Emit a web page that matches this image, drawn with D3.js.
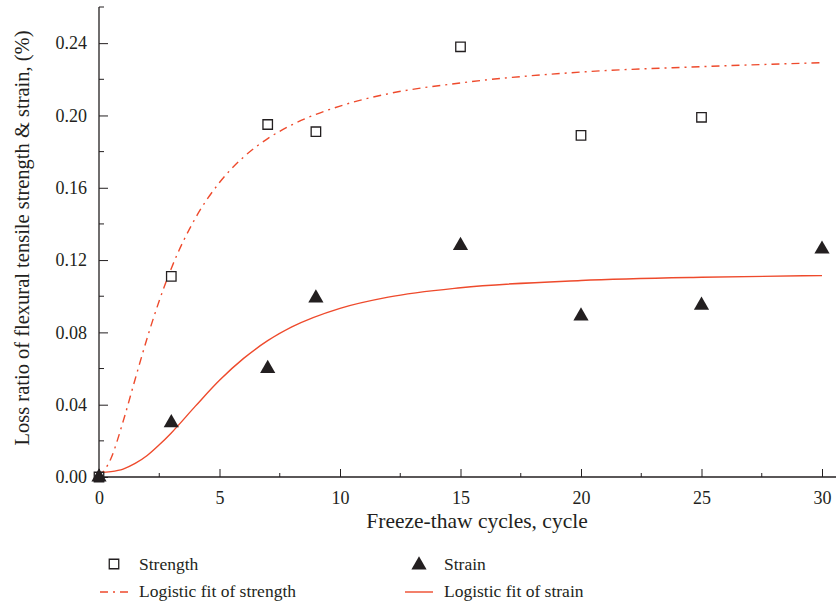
<!DOCTYPE html>
<html>
<head>
<meta charset="utf-8">
<script src="https://cdn.jsdelivr.net/npm/d3@7"></script>
<style>
  body { margin: 0; background: #fff; }
  text { font-family: "Liberation Serif", "DejaVu Serif", serif; fill: #231f20; }
</style>
</head>
<body>
<div id="chart"></div>
<script>
let width = 836;
let height = 604;
let margin = ({top: 7, right: 14, bottom: 127, left: 99});

// measured points
let cycles = [0, 3, 7, 9, 15, 20, 25];
let strength = [0, 0.111, 0.195, 0.191, 0.238, 0.189, 0.199];
let strainCycles = [0, 3, 7, 9, 15, 20, 25, 30];
let strain = [0, 0.030, 0.060, 0.099, 0.128, 0.089, 0.095, 0.126];

// fitted curves
let fitX = [0, 0.5, 1, 1.5, 2, 2.5, 3, 4, 5, 6, 7, 8, 10, 12, 15, 20, 25, 30];
let strengthFit = [0, 0.0104, 0.0307, 0.0541, 0.0769, 0.0975, 0.1154, 0.1432, 0.1629, 0.177, 0.1872, 0.1948, 0.2052, 0.2120, 0.2180, 0.2240, 0.2270, 0.2292];
let strainFit = [0.0025, 0.0030, 0.0044, 0.0075, 0.0119, 0.0178, 0.0244, 0.0392, 0.0535, 0.0656, 0.0754, 0.0830, 0.0933, 0.0995, 0.1047, 0.1087, 0.1105, 0.1114];

let yTicks = [0.00, 0.04, 0.08, 0.12, 0.16, 0.20, 0.24];
let xTicks = [0, 5, 10, 15, 20, 25, 30];

let red = "#ee4a2c";

let svg = d3.select("#chart")
    .append("svg")
    .attr("width", width)
    .attr("height", height);

let xScale = d3.scaleLinear()
    .domain([0, 30])
    .range([margin.left, 822]);

let yScale = d3.scaleLinear()
    .domain([0, 0.26])
    .range([height - margin.bottom, margin.top]);

let x0 = xScale(0), y0 = yScale(0);

// x axis (ticks pointing inwards)
let xAxis = d3.axisBottom(xScale)
    .tickValues(xTicks)
    .tickSize(-8)
    .tickPadding(14)
    .tickFormat(d3.format("d"));

let gx = svg.append("g")
    .attr("transform", "translate(0," + y0 + ")")
    .call(xAxis);
gx.select(".domain").remove();
gx.append("line")
    .attr("x1", x0).attr("x2", width)
    .attr("stroke", "#231f20").attr("stroke-width", 1.3);
gx.selectAll(".minor")
    .data(d3.range(2.5, 30, 5))
    .enter().append("line")
    .attr("x1", d => xScale(d)).attr("x2", d => xScale(d))
    .attr("y1", 0).attr("y2", -4)
    .attr("stroke", "#231f20");

// y axis
let yAxis = d3.axisLeft(yScale)
    .tickValues(yTicks)
    .tickSize(-9)
    .tickPadding(12)
    .tickFormat(d3.format(".2f"));

let gy = svg.append("g")
    .attr("transform", "translate(" + x0 + ",0)")
    .call(yAxis);
gy.select(".domain").remove();
gy.append("line")
    .attr("y1", margin.top).attr("y2", y0)
    .attr("stroke", "#231f20").attr("stroke-width", 1.3);
gy.selectAll(".minor")
    .data([0.02, 0.06, 0.10, 0.14, 0.18, 0.22, 0.26])
    .enter().append("line")
    .attr("y1", d => yScale(d)).attr("y2", d => yScale(d))
    .attr("x1", 0).attr("x2", 5)
    .attr("stroke", "#231f20");

svg.selectAll(".tick line").attr("stroke", "#231f20");
svg.selectAll(".tick text")
    .style("font-family", "Liberation Serif, serif")
    .style("font-size", "18px")
    .attr("fill", "#231f20");

// axis titles
svg.append("text")
    .attr("x", 477)
    .attr("y", 528)
    .attr("text-anchor", "middle")
    .style("font-size", "21.5px")
    .text("Freeze-thaw cycles, cycle");

svg.append("text")
    .attr("transform", "translate(29," + 238 + ") rotate(-90)")
    .attr("text-anchor", "middle")
    .style("font-size", "20.5px")
    .text("Loss ratio of flexural tensile strength & strain, (%)");

// fit lines
let line = d3.line()
    .x(d => xScale(d[0]))
    .y(d => yScale(d[1]))
    .curve(d3.curveMonotoneX);

svg.append("path")
    .datum(fitX.map((x, i) => [x, strengthFit[i]]))
    .attr("d", line)
    .attr("fill", "none")
    .attr("stroke", red)
    .attr("stroke-width", 1.4)
    .attr("stroke-dasharray", "8,5,2,5");

svg.append("path")
    .datum(fitX.map((x, i) => [x, strainFit[i]]))
    .attr("d", line)
    .attr("fill", "none")
    .attr("stroke", red)
    .attr("stroke-width", 1.4);

// markers
let square = d3.symbol().type(d3.symbolSquare).size(90);
let triangle = d3.symbol().type(d3.symbolTriangle).size(100);

svg.selectAll(".strength")
    .data(cycles.map((c, i) => [c, strength[i]]))
    .enter().append("path")
    .attr("class", "strength")
    .attr("d", square)
    .attr("transform", d => "translate(" + xScale(d[0]) + "," + yScale(d[1]) + ")")
    .attr("fill", "#fff")
    .attr("stroke", "#231f20")
    .attr("stroke-width", 1.3);

svg.selectAll(".strain")
    .data(strainCycles.map((c, i) => [c, strain[i]]))
    .enter().append("path")
    .attr("class", "strain")
    .attr("d", triangle)
    .attr("transform", d => "translate(" + xScale(d[0]) + "," + yScale(d[1]) + ")")
    .attr("fill", "#231f20");

// legend
let legend = svg.append("g");

legend.append("path")
    .attr("d", square)
    .attr("transform", "translate(114,564)")
    .attr("fill", "#fff")
    .attr("stroke", "#231f20")
    .attr("stroke-width", 1.3);
legend.append("text").attr("x", 139).attr("y", 570).style("font-size", "17.5px").text("Strength");

legend.append("path")
    .attr("d", triangle)
    .attr("transform", "translate(419,565)")
    .attr("fill", "#231f20");
legend.append("text").attr("x", 444).attr("y", 570).style("font-size", "17.5px").text("Strain");

legend.append("line")
    .attr("x1", 100).attr("x2", 128).attr("y1", 592).attr("y2", 592)
    .attr("stroke", red).attr("stroke-width", 1.4)
    .attr("stroke-dasharray", "8,5,2,5");
legend.append("text").attr("x", 139).attr("y", 597).style("font-size", "17.5px").text("Logistic fit of strength");

legend.append("line")
    .attr("x1", 405).attr("x2", 433).attr("y1", 592).attr("y2", 592)
    .attr("stroke", red).attr("stroke-width", 1.4);
legend.append("text").attr("x", 444).attr("y", 597).style("font-size", "17.5px").text("Logistic fit of strain");
</script>
</body>
</html>
